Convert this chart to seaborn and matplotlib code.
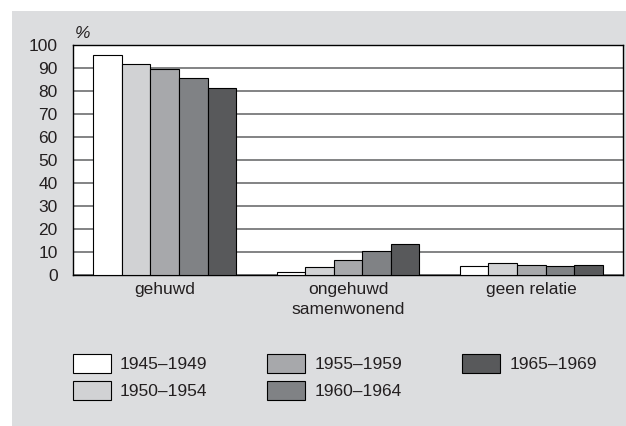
import numpy as np
import pandas as pd
import matplotlib
matplotlib.use("Agg")
import matplotlib.pyplot as plt
from matplotlib.patches import Rectangle
import seaborn as sns

# data
categories = ["gehuwd", "ongehuwd\nsamenwonend", "geen relatie"]
cohorts = ["1945–1949", "1950–1954", "1955–1959", "1960–1964", "1965–1969"]
c1945 = [95.5, 1.2, 3.8]
c1950 = [91.7, 3.3, 5.1]
c1955 = [89.5, 6.7, 4.5]
c1960 = [85.5, 10.6, 3.8]
c1965 = [81.5, 13.4, 4.4]
colors = ["#ffffff", "#d1d2d4", "#a7a8ab", "#808285", "#58595b"]

df = pd.DataFrame({
    "Relatie": categories * 5,
    "Cohort": np.repeat(cohorts, 3),
    "Pct": c1945 + c1950 + c1955 + c1960 + c1965,
})

sns.set_style("white")
plt.rcParams["font.family"] = ["Liberation Sans", "DejaVu Sans"]
txt = "#231f20"
fs = 12.5

fig = plt.figure(figsize=(6.26, 4.26), dpi=100)
fig.patch.set_facecolor("white")
fig.patches.append(Rectangle((12 / 626, 0), 1, 1 - 11 / 426, transform=fig.transFigure,
                             facecolor="#dcdddf", edgecolor="none", zorder=-10))

ax = fig.add_axes([73 / 626, (426 - 275) / 426, (623 - 73) / 626, (275 - 45) / 426])
sns.barplot(data=df, x="Relatie", y="Pct", hue="Cohort", hue_order=cohorts,
            palette=colors, width=0.78, edgecolor="black", linewidth=0.8,
            saturation=1, ax=ax, zorder=3)

ax.set_facecolor("white")
ax.set_xlim(-0.5, 2.5)
ax.set_ylim(0, 100)
ax.set_yticks(range(0, 101, 10))
ax.yaxis.grid(True, color="#6d6e70", linewidth=1.2, zorder=0)
ax.set_axisbelow(True)
ax.set_xlabel("")
ax.set_ylabel("")
for s in ax.spines.values():
    s.set_visible(True)
    s.set_color("black")
    s.set_linewidth(1.0)

ax.tick_params(axis="y", length=0, pad=11, labelsize=fs, labelcolor=txt)
ax.tick_params(axis="x", which="major", length=0, pad=5, labelsize=fs, labelcolor=txt)
ax.set_xticks([-0.5, 0.5, 1.5, 2.5], minor=True)
ax.tick_params(axis="x", which="minor", length=7, width=1, color="black", direction="out")
ax.set_xticklabels(categories, linespacing=1.45)

fig.text(75 / 626, 1 - 33 / 426, "%", fontsize=fs, style="italic", color=txt, va="center")

handles, labels = ax.get_legend_handles_labels()
ax.get_legend().remove()
fig.legend(handles, labels, ncol=3, loc="upper left", frameon=False,
           bbox_to_anchor=(73 / 626, 1 - 354 / 426), borderpad=0, borderaxespad=0,
           fontsize=fs, handlelength=2.19, handleheight=1.32, handletextpad=0.52,
           columnspacing=3.45, labelspacing=0.45, labelcolor=txt)

fig.savefig("out.png", dpi=100)
